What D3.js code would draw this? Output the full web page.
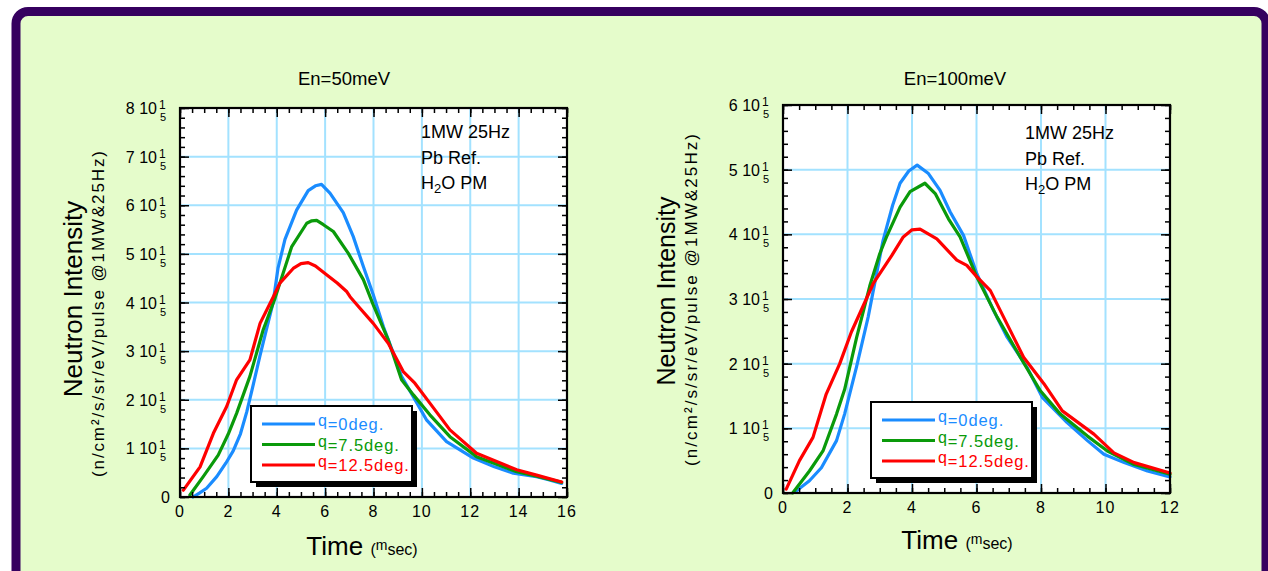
<!DOCTYPE html>
<html>
<head>
<meta charset="utf-8">
<script src="https://cdn.jsdelivr.net/npm/d3@7"></script>
<style>
body { margin: 0; background: #fff; }
text { font-family: "Liberation Sans", Arial, sans-serif; fill: #000; }
</style>
</head>
<body>
<div id="chart"></div>
<script>
// values in units of 10^5, time in msec
var angles = ["0", "7.5", "12.5"];
var lineColors = ["#1a8cff", "#0a9a0a", "#ff0000"];

var xTicks50 = [0, 2, 4, 6, 8, 10, 12, 14, 16];
var yTicks50 = [0, 1, 2, 3, 4, 5, 6, 7, 8];
var xTicks100 = [0, 2, 4, 6, 8, 10, 12];
var yTicks100 = [0, 1, 2, 3, 4, 5, 6];

var en50_q0 = [[0.54,0],[0.8,0.08],[1.1,0.18],[1.52,0.42],[1.9,0.7],[2.2,0.95],[2.5,1.3],[2.76,1.75],[3.0,2.25],[3.3,2.89],[3.6,3.5],[3.85,4.0],[4.05,4.7],[4.34,5.3],[4.82,5.9],[5.3,6.3],[5.6,6.4],[5.85,6.43],[6.2,6.25],[6.75,5.85],[7.16,5.36],[7.58,4.74],[7.99,4.16],[8.41,3.5],[8.82,2.96],[9.16,2.48],[9.65,2.06],[10.2,1.58],[11.02,1.14],[12.13,0.8],[13.0,0.62],[13.78,0.49],[14.74,0.42],[15.2,0.36],[15.78,0.28]];
var en50_q75 = [[0.41,0.04],[0.96,0.42],[1.58,0.86],[2.0,1.3],[2.34,1.72],[2.89,2.48],[3.44,3.44],[3.93,4.09],[4.62,5.15],[5.24,5.63],[5.45,5.68],[5.65,5.69],[5.93,5.6],[6.34,5.46],[6.96,5.01],[7.58,4.47],[7.99,3.95],[8.61,3.23],[9.16,2.41],[9.65,2.1],[10.33,1.69],[11.16,1.24],[12.26,0.83],[13.92,0.52],[14.74,0.43],[15.78,0.3]];
var en50_q125 = [[0.14,0.14],[0.83,0.62],[1.38,1.31],[1.93,1.86],[2.34,2.41],[2.89,2.82],[3.31,3.57],[3.86,4.12],[4.13,4.4],[4.68,4.7],[5.0,4.8],[5.3,4.82],[5.6,4.75],[6.06,4.57],[6.5,4.4],[6.9,4.22],[7.03,4.12],[7.44,3.88],[7.99,3.57],[8.61,3.16],[9.23,2.58],[9.71,2.34],[10.33,1.93],[11.16,1.38],[12.26,0.9],[13.92,0.56],[14.74,0.45],[15.78,0.31]];

var en100_q0 = [[0.41,0.03],[0.82,0.19],[1.19,0.39],[1.66,0.81],[1.91,1.22],[2.28,1.95],[2.64,2.72],[3.1,3.9],[3.4,4.45],[3.63,4.79],[3.9,4.98],[4.16,5.07],[4.51,4.94],[4.87,4.68],[5.18,4.35],[5.6,3.98],[6.01,3.39],[6.53,2.82],[6.95,2.41],[7.57,1.94],[8.04,1.48],[8.81,1.09],[9.44,0.81],[9.95,0.6],[10.58,0.47],[11.3,0.34],[12,0.25]];
var en100_q75 = [[0.3,0],[0.82,0.34],[1.24,0.65],[1.66,1.22],[1.91,1.6],[2.28,2.4],[2.69,3.2],[3.0,3.7],[3.21,3.96],[3.63,4.42],[3.94,4.66],[4.4,4.79],[4.72,4.63],[5.13,4.24],[5.49,3.96],[6.01,3.34],[6.64,2.72],[7.36,2.1],[7.98,1.58],[8.6,1.22],[9.44,0.88],[10.06,0.65],[10.89,0.44],[12,0.29]];
var en100_q125 = [[0.1,0.06],[0.51,0.5],[0.93,0.86],[1.34,1.53],[1.76,2.0],[2.12,2.49],[2.8,3.24],[3.37,3.67],[3.73,3.96],[4.0,4.07],[4.25,4.08],[4.77,3.93],[5.39,3.6],[5.7,3.52],[6.0,3.35],[6.43,3.13],[6.84,2.72],[7.46,2.1],[8.09,1.69],[8.66,1.27],[9.64,0.91],[10.26,0.62],[10.89,0.47],[12,0.31]];

var notes = ["1MW 25Hz", "Pb Ref."];

var svg = d3.select("#chart")
  .append("svg")
  .attr("width", 1268)
  .attr("height", 571);

svg.append("rect")
  .attr("x", 16).attr("y", 11.5)
  .attr("width", 1250).attr("height", 640)
  .attr("rx", 12)
  .attr("fill", "#e5fccb")
  .attr("stroke", "#36005f")
  .attr("stroke-width", 9);

function panel(p) {
  var x = d3.scaleLinear().domain([0, p.xMax]).range([p.x0, p.x1]);
  var y = d3.scaleLinear().domain([0, p.yMax]).range([p.y1, p.y0]);
  var g = svg.append("g");

  g.append("rect")
    .attr("x", p.x0).attr("y", p.y0)
    .attr("width", p.x1 - p.x0).attr("height", p.y1 - p.y0)
    .attr("fill", "#fff");

  // grid
  g.selectAll(".gx").data(p.xTicks).enter().append("line")
    .attr("x1", d => x(d)).attr("x2", d => x(d))
    .attr("y1", p.y0).attr("y2", p.y1)
    .attr("stroke", "#a3e2ff").attr("stroke-width", 2);
  g.selectAll(".gy").data(p.yTicks).enter().append("line")
    .attr("y1", d => y(d)).attr("y2", d => y(d))
    .attr("x1", p.x0).attr("x2", p.x1)
    .attr("stroke", "#a3e2ff").attr("stroke-width", 2);

  // curves
  var line = d3.line().x(d => x(d[0])).y(d => y(d[1]));
  p.series.forEach(function(s, i) {
    g.append("path")
      .attr("d", line(s))
      .attr("fill", "none")
      .attr("stroke", lineColors[i])
      .attr("stroke-width", 3.2)
      .attr("stroke-linejoin", "round")
      .attr("stroke-linecap", "round");
  });

  // ticks on all four sides, pointing inward
  var minorX = d3.range(0, p.xMax + 0.001, 0.5);
  var minorY = d3.range(0, p.yMax + 0.001, 0.2);
  function axes(scale, ax, pos, minor, major) {
    [[minor, 5], [major, 9]].forEach(function(t) {
      var a = ax(scale).tickValues(t[0]).tickSize(-t[1]).tickSizeOuter(0).tickFormat("");
      var gg = g.append("g").attr("transform", pos).call(a);
      gg.select(".domain").remove();
      gg.selectAll("line").attr("stroke", "#000").attr("stroke-width", 1.5);
    });
  }
  axes(x, d3.axisBottom, "translate(0," + p.y1 + ")", minorX, p.xTicks);
  axes(x, d3.axisTop, "translate(0," + p.y0 + ")", minorX, p.xTicks);
  axes(y, d3.axisLeft, "translate(" + p.x0 + ",0)", minorY, p.yTicks);
  axes(y, d3.axisRight, "translate(" + p.x1 + ",0)", minorY, p.yTicks);

  g.append("rect")
    .attr("x", p.x0).attr("y", p.y0)
    .attr("width", p.x1 - p.x0).attr("height", p.y1 - p.y0)
    .attr("fill", "none").attr("stroke", "#000").attr("stroke-width", 2.2);

  // x tick labels
  g.selectAll(".xl").data(p.xTicks).enter().append("text")
    .attr("x", d => x(d)).attr("y", p.y1 + 20)
    .attr("text-anchor", "middle")
    .style("font-size", "16px").style("letter-spacing", "1px")
    .text(d => d);

  // y tick labels  "v 10" with stacked 1 / 5
  p.yTicks.forEach(function(v) {
    if (v === 0) {
      g.append("text").attr("x", p.x0 - 10).attr("y", y(v) + 6)
        .attr("text-anchor", "end").style("font-size", "16px").text("0");
      return;
    }
    g.append("text").attr("x", p.x0 - 23).attr("y", y(v) + 6)
      .attr("text-anchor", "end").style("font-size", "16px").text(v + " 10");
    g.append("text").attr("x", p.x0 - 21).attr("y", y(v) + 1)
      .style("font-size", "12px").text("1");
    g.append("text").attr("x", p.x0 - 20).attr("y", y(v) + 13)
      .style("font-size", "11px").text("5");
  });

  // title
  g.append("text").attr("x", p.titleX).attr("y", 85)
    .attr("text-anchor", "middle").style("font-size", "18.5px").text(p.title);

  // notes
  notes.forEach(function(n, i) {
    g.append("text").attr("x", p.noteX).attr("y", p.noteY + i * 25.5)
      .style("font-size", "18px").text(n);
  });
  var h = g.append("text").attr("x", p.noteX).attr("y", p.noteY + 51).style("font-size", "18px");
  h.append("tspan").text("H");
  h.append("tspan").attr("dy", 4).style("font-size", "13px").text("2");
  h.append("tspan").attr("dy", -4).text("O PM");

  // axis titles
  var xt = g.append("text").attr("x", p.xTitleX).attr("y", p.xTitleY)
    .attr("text-anchor", "middle");
  xt.append("tspan").style("font-size", "26px").text("Time ");
  xt.append("tspan").style("font-size", "16px").text("(");
  xt.append("tspan").attr("dy", -5).style("font-size", "14px").text("m");
  xt.append("tspan").attr("dy", 5).style("font-size", "16px").text("sec)");

  g.append("text")
    .attr("transform", "translate(" + p.yTitleX + "," + p.yTitleY + ") rotate(-90)")
    .attr("text-anchor", "middle").style("font-size", p.yTitleSize + "px")
    .text("Neutron Intensity");
  g.append("text")
    .attr("transform", "translate(" + (p.yTitleX + 22) + "," + p.ySubY + ") rotate(-90)")
    .attr("text-anchor", "middle").style("font-size", "17px")
    .attr("textLength", p.ySubLen).attr("lengthAdjust", "spacing")
    .text("(n/cm\u00b2/s/sr/eV/pulse @1MW&25Hz)");

  // legend
  var L = g.append("g").attr("transform", "translate(" + p.legX + "," + p.legY + ")");
  L.append("rect").attr("x", 5).attr("y", 5).attr("width", 161).attr("height", 76).attr("fill", "#000");
  L.append("rect").attr("x", 0).attr("y", 0).attr("width", 161).attr("height", 76)
    .attr("fill", "#fff").attr("stroke", "#000").attr("stroke-width", 2);
  angles.forEach(function(a, i) {
    var ry = 18 + i * 20.5;
    L.append("line").attr("x1", 11).attr("x2", 64).attr("y1", ry).attr("y2", ry)
      .attr("stroke", lineColors[i]).attr("stroke-width", 3.2);
    var t = L.append("text").attr("x", 67).attr("y", ry + 6)
      .style("font-size", "16.5px").style("letter-spacing", "0.9px")
      .style("fill", lineColors[i]);
    t.append("tspan").attr("dy", -4).style("font-size", "16px").text("q");
    t.append("tspan").attr("dy", 4).text("=" + a + "deg.");
  });
}

panel({
  x0: 180, x1: 567, y0: 108, y1: 497,
  xMax: 16, yMax: 8, xTicks: xTicks50, yTicks: yTicks50,
  series: [en50_q0, en50_q75, en50_q125],
  title: "En=50meV", titleX: 344,
  noteX: 421, noteY: 138,
  xTitleX: 362, xTitleY: 555,
  yTitleX: 82, yTitleY: 299, yTitleSize: 26, ySubY: 314, ySubLen: 326,
  legX: 251, legY: 406
});

panel({
  x0: 783, x1: 1170, y0: 105, y1: 493,
  xMax: 12, yMax: 6, xTicks: xTicks100, yTicks: yTicks100,
  series: [en100_q0, en100_q75, en100_q125],
  title: "En=100meV", titleX: 955,
  noteX: 1025, noteY: 139,
  xTitleX: 957, xTitleY: 549,
  yTitleX: 675, yTitleY: 291, yTitleSize: 25, ySubY: 300, ySubLen: 332,
  legX: 871, legY: 402
});
</script>
</body>
</html>
